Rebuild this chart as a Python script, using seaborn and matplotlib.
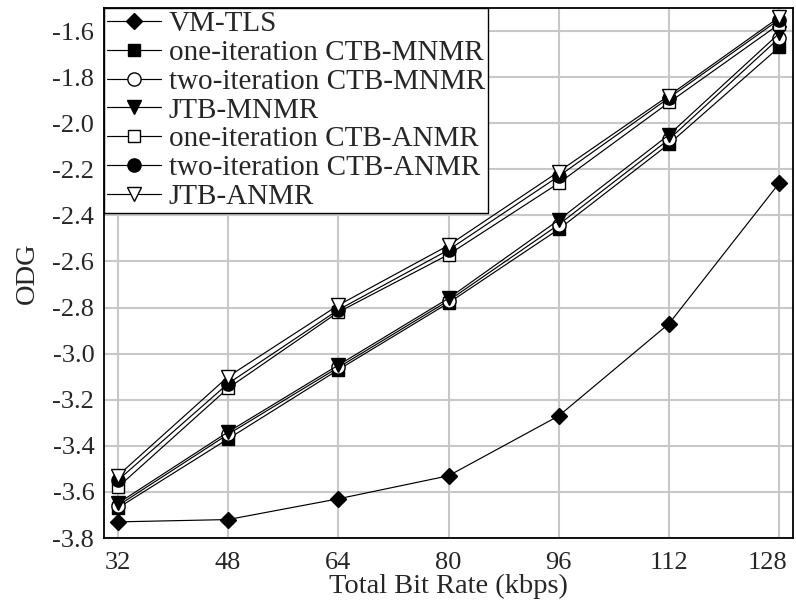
import numpy as np
import pandas as pd
import matplotlib
matplotlib.use("Agg")
import matplotlib.pyplot as plt
import matplotlib.transforms as mtransforms
import seaborn as sns

rates = [32, 48, 64, 80, 96, 112, 128]
vm_tls = [-3.73, -3.72, -3.63, -3.53, -3.27, -2.87, -2.26]
one_ctb_mnmr = [-3.67, -3.37, -3.07, -2.78, -2.46, -2.09, -1.67]
two_ctb_mnmr = [-3.66, -3.35, -3.06, -2.77, -2.44, -2.07, -1.63]
jtb_mnmr = [-3.65, -3.34, -3.05, -2.76, -2.42, -2.05, -1.61]
one_ctb_anmr = [-3.58, -3.15, -2.82, -2.57, -2.26, -1.91, -1.57]
two_ctb_anmr = [-3.55, -3.13, -2.81, -2.55, -2.23, -1.89, -1.55]
jtb_anmr = [-3.53, -3.10, -2.79, -2.53, -2.21, -1.88, -1.54]
yticks = [-3.8, -3.6, -3.4, -3.2, -3.0, -2.8, -2.6, -2.4, -2.2, -2.0, -1.8, -1.6]

series = [
    ("VM-TLS", vm_tls, "D", "black", 8.5),
    ("one-iteration CTB-MNMR", one_ctb_mnmr, "s", "black", 9),
    ("two-iteration CTB-MNMR", two_ctb_mnmr, "o", "white", 9.5),
    ("JTB-MNMR", jtb_mnmr, "v", "black", 10),
    ("one-iteration CTB-ANMR", one_ctb_anmr, "s", "white", 9),
    ("two-iteration CTB-ANMR", two_ctb_anmr, "o", "black", 9.5),
    ("JTB-ANMR", jtb_anmr, "v", "white", 10),
]

sns.set_style("white")
plt.rcParams["font.family"] = ["Liberation Serif", "DejaVu Serif"]
plt.rcParams["axes.unicode_minus"] = False

fig = plt.figure(figsize=(7.96, 6.06), dpi=100)
ax = fig.add_axes([104/796, 1-538/606, (793-104)/796, (538-8)/606])

for name, vals, mk, fc, ms in series:
    sns.lineplot(x=rates, y=vals, ax=ax, color="black", linewidth=0.85,
                 marker=mk, markersize=ms, markerfacecolor=fc,
                 markeredgecolor="black", markeredgewidth=1.0, label=name)

ax.set_xlim(30, 130)
ax.set_ylim(-3.8, -1.5)
ax.set_xticks(rates)
ax.set_yticks(yticks)
ax.set_yticklabels([f"{v:.1f}" for v in yticks])
ax.grid(True, color="#c8c8c8", linewidth=1.5)
ax.set_axisbelow(True)
for s in ax.spines.values():
    s.set_color("black")
    s.set_linewidth(1.3)
ax.tick_params(axis="both", direction="out", length=6, width=1.2, color="black",
               labelsize=19)
ax.tick_params(axis="x", pad=4)
ax.tick_params(axis="y", pad=1)
ax.set_xlabel("Total Bit Rate (kbps)", fontsize=20.5, labelpad=0)
ax.set_ylabel("ODG", fontsize=20.5, labelpad=9)

# the last x tick label sits slightly left of its tick, as in the original
last = ax.get_xticklabels()[-1]
last.set_transform(last.get_transform() +
                   mtransforms.ScaledTranslation(-12/100, 0, fig.dpi_scale_trans))

leg = ax.legend(loc="upper left", bbox_to_anchor=(0, 1), fontsize=21,
                frameon=True, fancybox=False, edgecolor="black", framealpha=1,
                borderaxespad=0, borderpad=0.1, labelspacing=0.08,
                handlelength=1.85, handletextpad=0.27)
leg.get_frame().set_linewidth(1.0)

fig.savefig("out.png", dpi=100)
